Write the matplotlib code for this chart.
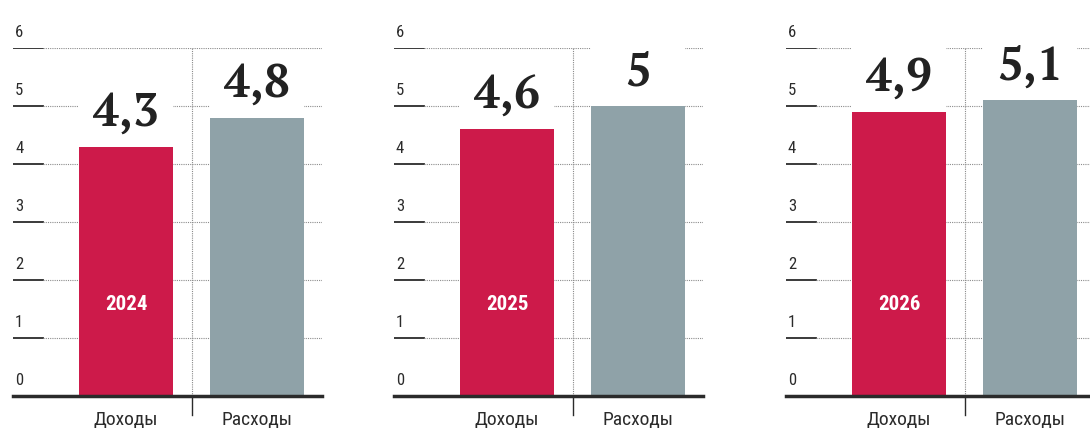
import numpy as np
import matplotlib
matplotlib.use("Agg")
import matplotlib.pyplot as plt

years = ['2024', '2025', '2026']
income = [4.3, 4.6, 4.9]
expense = [4.8, 5.0, 5.1]
categories = ['Доходы', 'Расходы']
yticks = [0, 1, 2, 3, 4, 5, 6]

RED = '#cd1a4a'
GREY = '#8fa2a8'
DARK = '#2b2b2b'
NARROW = ['Roboto Condensed', 'PT Sans Narrow', 'Fira Sans Condensed', 'DejaVu Sans']
SERIF = ['PT Serif', 'DejaVu Serif']

W, H = 1090, 438
fig = plt.figure(figsize=(W / 100, H / 100), dpi=100)

# panel left edges in px
lefts = [13, 394, 786]
ax_w, base_y, top_y = 309, 396, 48
bar_w = 0.717


def fmt(v):
    return f"{v:g}".replace('.', ',')


for i, left in enumerate(lefts):
    ax = fig.add_axes([left / W, (H - base_y) / H, ax_w / W, (base_y - top_y) / H])
    ax.set_xlim(-0.863, 1.496)
    ax.set_ylim(0, 6)
    ax.axis('off')

    # gridlines: short solid stub + dotted rest
    stub = 30 / ax_w
    for t in yticks:
        if t > 0:
            ax.axhline(t, 0, stub, color=DARK, lw=1.3, zorder=1)
            ax.axhline(t, stub, 1, color='#8c8c8c', lw=0.8, ls=(0, (1, 1)), zorder=1)
        ax.annotate(str(t), (0, t), xycoords=ax.get_yaxis_transform(),
                    xytext=(2, 11), textcoords='offset pixels',
                    ha='left', va='baseline', fontsize=12, color=DARK,
                    family=NARROW)

    # baseline
    ax.axhline(0, 0, 1, color=DARK, lw=2.5, zorder=4, clip_on=False)

    # divider
    ax.plot([0.5, 0.5], [0, 6], color='#8a8a8a', lw=0.8, ls=(0, (1, 1)), zorder=1)
    ax.plot([0.5, 0.5], [0, -0.33], color=DARK, lw=1.0, clip_on=False, zorder=4)

    vals = [income[i], expense[i]]
    ax.bar([0, 1], vals, width=bar_w, color=[RED, GREY], zorder=3)
    # white backing behind the value labels, hides the grid
    ax.bar([0, 1], [1.1, 1.1], bottom=vals, width=bar_w, color='white',
           zorder=2, clip_on=False)

    for x, v in zip([0, 1], vals):
        ax.annotate(fmt(v), (x, v), xytext=(0, 21), textcoords='offset pixels',
                    ha='center', va='baseline', fontsize=33, fontweight='bold',
                    family=SERIF, color='#222222', zorder=5)

    ax.text(0, 1.57, years[i], ha='center', va='center', color='white',
            fontsize=15, fontweight='bold', family=NARROW, zorder=5)

    for x, c in zip([0, 1], categories):
        ax.annotate(c, (x, 0), xytext=(0, -24), textcoords='offset pixels',
                    ha='center', va='center', fontsize=14, color=DARK,
                    family=NARROW)

fig.savefig('out.png', dpi=100, facecolor='white')
